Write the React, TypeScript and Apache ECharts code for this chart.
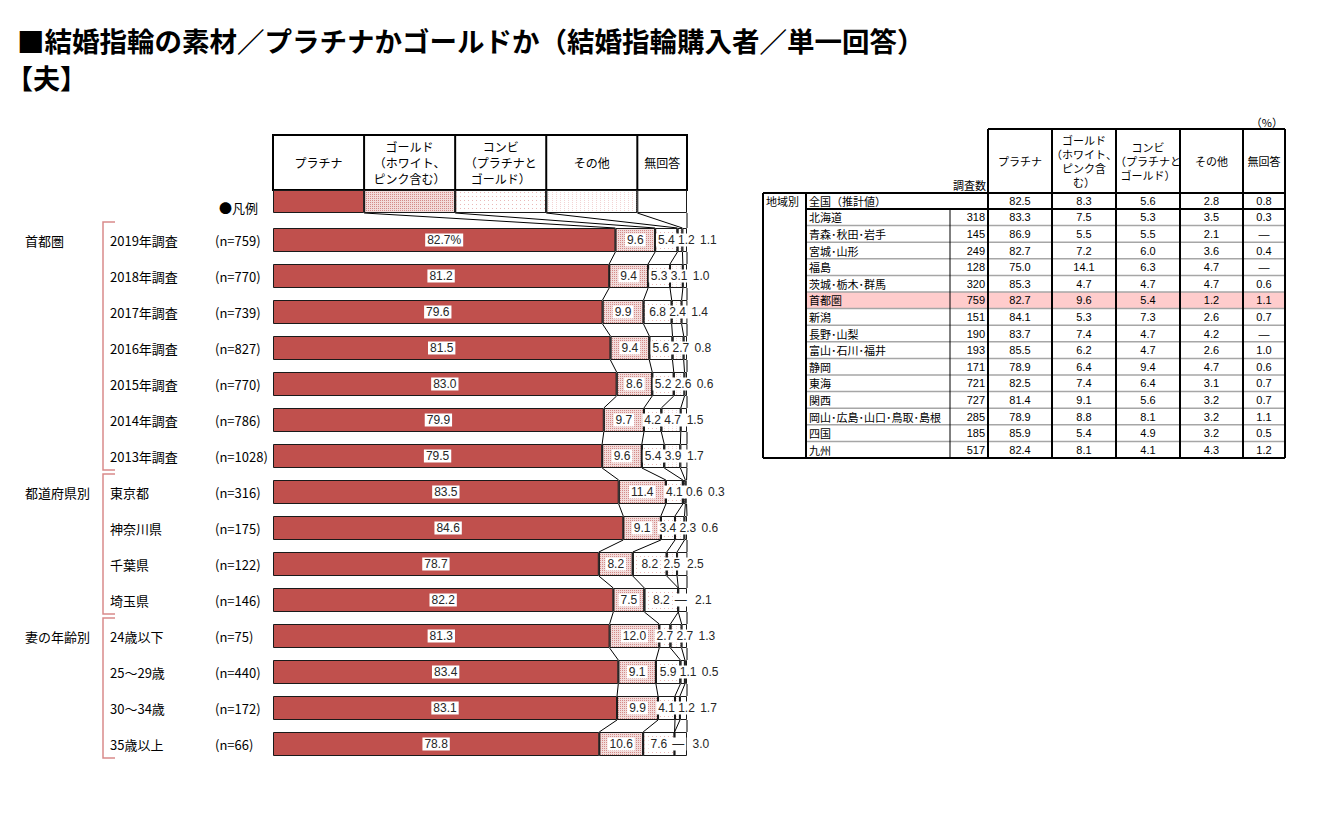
import React, { useEffect, useRef } from 'react';
import * as echarts from 'echarts';

// ---------------- data (left chart) ----------------
const groupNames = ['首都圏', '', '', '', '', '', '', '都道府県別', '', '', '', '妻の年齢別', '', '', ''];
const rowLabels = ['2019年調査', '2018年調査', '2017年調査', '2016年調査', '2015年調査', '2014年調査', '2013年調査', '東京都', '神奈川県', '千葉県', '埼玉県', '24歳以下', '25～29歳', '30～34歳', '35歳以上'];
const rowN = [759, 770, 739, 827, 770, 786, 1028, 316, 175, 122, 146, 75, 440, 172, 66];
const platinum = [82.7, 81.2, 79.6, 81.5, 83.0, 79.9, 79.5, 83.5, 84.6, 78.7, 82.2, 81.3, 83.4, 83.1, 78.8];
const gold = [9.6, 9.4, 9.9, 9.4, 8.6, 9.7, 9.6, 11.4, 9.1, 8.2, 7.5, 12.0, 9.1, 9.9, 10.6];
const combi = [5.4, 5.3, 6.8, 5.6, 5.2, 4.2, 5.4, 4.1, 3.4, 8.2, 8.2, 2.7, 5.9, 4.1, 7.6];
const other = [1.2, 3.1, 2.4, 2.7, 2.6, 4.7, 3.9, 0.6, 2.3, 2.5, 0, 2.7, 1.1, 1.2, 0];
const noAnswer = [1.1, 1.0, 1.4, 0.8, 0.6, 1.5, 1.7, 0.3, 0.6, 2.5, 2.1, 1.3, 0.5, 1.7, 3.0];
const groupRanges = [[0, 6], [7, 10], [11, 14]];
const seriesNames = ['プラチナ', 'ゴールド', 'コンビ', 'その他', '無回答'];
const headerTexts = ['プラチナ', 'ゴールド\n（ホワイト、\nピンク含む）', 'コンビ\n（プラチナと\nゴールド）', 'その他', '無回答'];

// ---------------- data (right table) ----------------
const tableHeaders = ['プラチナ', 'ゴールド\n（ホワイト、\nピンク含\nむ）', 'コンビ\n（プラチナと\nゴールド）', 'その他', '無回答'];
const nationalLabel = '全国（推計値）';
const nationalValues = [82.5, 8.3, 5.6, 2.8, 0.8];
const regionNames = ['北海道', '青森･秋田･岩手', '宮城･山形', '福島', '茨城･栃木･群馬', '首都圏', '新潟', '長野･山梨', '富山･石川･福井', '静岡', '東海', '関西', '岡山･広島･山口･鳥取･島根', '四国', '九州'];
const regionN = [318, 145, 249, 128, 320, 759, 151, 190, 193, 171, 721, 727, 285, 185, 517];
const regionPlatinum = [83.3, 86.9, 82.7, 75.0, 85.3, 82.7, 84.1, 83.7, 85.5, 78.9, 82.5, 81.4, 78.9, 85.9, 82.4];
const regionGold = [7.5, 5.5, 7.2, 14.1, 4.7, 9.6, 5.3, 7.4, 6.2, 6.4, 7.4, 9.1, 8.8, 5.4, 8.1];
const regionCombi = [5.3, 5.5, 6.0, 6.3, 4.7, 5.4, 7.3, 4.7, 4.7, 9.4, 6.4, 5.6, 8.1, 4.9, 4.1];
const regionOther = [3.5, 2.1, 3.6, 4.7, 4.7, 1.2, 2.6, 4.2, 2.6, 4.7, 3.1, 3.2, 3.2, 3.2, 4.3];
const regionNoAnswer = [0.3, null, 0.4, null, 0.6, 1.1, 0.7, null, 1.0, 0.6, 0.7, 0.7, 1.1, 0.5, 1.2];
const highlightRegion = '首都圏';

// ---------------- layout / style ----------------
const JP = '"Noto Sans CJK JP", "Noto Sans", sans-serif';
const NUM = '"Liberation Sans", Arial, sans-serif';
const PLOT_LEFT = 273;
const PLOT_W = 414;
const PLOT_TOP = 222;
const PLOT_H = 540;
const BAR_W = 24;
const LEG_TOP = 190;
const LEG_H = 23;
const HEAD_TOP = 135;
const K = PLOT_W / 100;
const legendShares = [22, 22, 22, 22, 12];
const RED = '#C0504D';
const BRACKET = '#D98A8A';

const segStyles: any[] = [
  { color: RED },
  { color: '#F2DCDB', decal: { symbol: 'rect', symbolSize: 1, color: '#D48A88', dashArrayX: [1, 1], dashArrayY: [1, 1] } },
  { color: '#FFFFFF', decal: { symbol: 'rect', symbolSize: 1, color: '#EBB8B7', dashArrayX: [1, 3], dashArrayY: [1, 3] } },
  { color: '#FFFFFF', decal: { symbol: 'rect', symbolSize: 1, color: '#F3D3D3', dashArrayX: [1, 3], dashArrayY: [1, 1] } },
  { color: '#FFFFFF' },
];

const fmt1 = (v: number | null) => (v === 0 || v == null ? '—' : v.toFixed(1));

function buildOption() {
  const values = [platinum, gold, combi, other, noAnswer];
  const cumRow = (i: number) => {
    let s = 0;
    return values.map((arr) => {
      s += arr[i];
      return Math.min(s, 100);
    });
  };
  let ls = 0;
  const legendCum = legendShares.map((v) => (ls += v));
  const connectorData = rowLabels.map((_, i) => [i, ...(i === 0 ? legendCum : cumRow(i - 1)), ...cumRow(i)]);

  const labelBase = {
    show: true,
    position: 'inside',
    backgroundColor: '#fff',
    padding: [1, 2, 0, 2],
    color: '#262626',
    fontSize: 12,
    fontFamily: NUM,
  };

  const otherX = (i: number, otherStart: number) => {
    const oc = otherStart + (other[i] * K) / 2;
    const cc = otherStart - (combi[i] * K) / 2;
    return Math.max(oc, cc + 20);
  };

  const mainSeries = values.map((arr, k) => {
    const s: any = {
      type: 'bar',
      name: seriesNames[k],
      stack: 'total',
      xAxisIndex: 0,
      yAxisIndex: 0,
      barWidth: BAR_W,
      data: arr,
      itemStyle: { ...segStyles[k], borderColor: '#1a1a1a', borderWidth: 1 },
      label: {
        ...labelBase,
        formatter: (p: any) => (k === 0 && p.dataIndex === 0 ? p.value.toFixed(1) + '%' : fmt1(p.value)),
      },
    };
    if (k === 3) {
      s.labelLayout = (p: any) => ({
        x: otherX(p.dataIndex, p.rect.x),
        y: p.rect.y + p.rect.height / 2,
        align: 'center',
        verticalAlign: 'middle',
      });
    }
    if (k === 4) {
      s.labelLayout = (p: any) => {
        const i = p.dataIndex;
        const oStart = p.rect.x - other[i] * K;
        return {
          x: Math.max(otherX(i, oStart) + 22, p.rect.x + p.rect.width + 8),
          y: p.rect.y + p.rect.height / 2,
          align: 'center',
          verticalAlign: 'middle',
        };
      };
    }
    return s;
  });

  const legendSeries = legendShares.map((v, k) => ({
    type: 'bar',
    name: seriesNames[k] + '凡例',
    stack: 'legend',
    xAxisIndex: 1,
    yAxisIndex: 1,
    barWidth: '100%',
    silent: true,
    data: [v],
    itemStyle: { ...segStyles[k], borderColor: '#1a1a1a', borderWidth: 1 },
    label: { show: false },
  }));

  const connectorSeries = {
    type: 'custom',
    xAxisIndex: 0,
    yAxisIndex: 0,
    clip: false,
    silent: true,
    z: 1,
    encode: { x: 1, y: 0 },
    data: connectorData,
    renderItem: (params: any, api: any) => {
      const i = api.value(0);
      const half = BAR_W / 2;
      const yCur = api.coord([0, i])[1] - half;
      const yPrev = i === 0 ? LEG_TOP + LEG_H : api.coord([0, i - 1])[1] + half;
      const children: any[] = [];
      for (let k = 0; k < 5; k++) {
        const xp = api.coord([api.value(1 + k), i])[0];
        const xc = api.coord([api.value(6 + k), i])[0];
        children.push({
          type: 'line',
          shape: { x1: xp, y1: yPrev, x2: xc, y2: yCur },
          style: { stroke: '#000', lineWidth: 1 },
        });
      }
      return { type: 'group', children };
    },
  };

  const bracketSeries = {
    type: 'custom',
    xAxisIndex: 0,
    yAxisIndex: 0,
    clip: false,
    silent: true,
    encode: { x: 1, y: 0 },
    data: groupRanges,
    renderItem: (params: any, api: any) => {
      const s = api.value(0);
      const e = api.value(1);
      const band = api.size([0, 1])[1];
      const top = api.coord([0, s])[1] - band / 2;
      const bottom = api.coord([0, e])[1] + band / 2 - 4;
      const x0 = 103;
      const x1 = 115;
      return {
        type: 'polyline',
        shape: { points: [[x1, top], [x0, top], [x0, bottom], [x1, bottom]] },
        style: { stroke: BRACKET, lineWidth: 1.5, fill: 'none' },
      };
    },
  };

  // ---------------- graphic (titles, header table, right table) ----------------
  const g: any[] = [];
  const line = (x1: number, y1: number, x2: number, y2: number, w = 1, c = '#000') =>
    g.push({ type: 'line', silent: true, shape: { x1, y1, x2, y2 }, style: { stroke: c, lineWidth: w } });
  const text = (t: string, x: number, y: number, o: any = {}) => {
    const align = o.align || 'center';
    const va = o.va || 'middle';
    g.push({
      type: 'text',
      silent: true,
      x,
      y,
      style: {
        text: t,
        fill: '#000',
        fontSize: o.fontSize || 12,
        fontFamily: o.fontFamily || JP,
        fontWeight: o.fontWeight || 'normal',
        lineHeight: o.lineHeight,
        align,
        verticalAlign: va,
        textAlign: align,
        textVerticalAlign: va,
      },
    });
  };

  // titles
  text('■結婚指輪の素材／プラチナかゴールドか（結婚指輪購入者／単一回答）', 17, 40, { fontSize: 27.5, lineHeight: 28, align: 'left', fontWeight: 'bold' });
  text('【夫】', 6, 77, { fontSize: 27, lineHeight: 28, align: 'left', fontWeight: 'bold' });

  // left header table
  const colX = [PLOT_LEFT];
  legendShares.forEach((v) => colX.push(colX[colX.length - 1] + v * K));
  g.push({
    type: 'rect',
    silent: true,
    shape: { x: PLOT_LEFT, y: HEAD_TOP, width: PLOT_W, height: LEG_TOP - HEAD_TOP },
    style: { fill: '#fff', stroke: '#000', lineWidth: 2 },
  });
  for (let k = 1; k < 5; k++) line(colX[k], HEAD_TOP, colX[k], LEG_TOP, 2);
  headerTexts.forEach((t, k) => {
    text(t, (colX[k] + colX[k + 1]) / 2, (HEAD_TOP + LEG_TOP) / 2, { fontSize: 12, lineHeight: 16 });
  });
  text('●凡例', 258, 207, { fontSize: 13, align: 'right' });

  // right table
  const TC = [763, 806, 950, 988, 1052, 1116, 1180, 1243, 1285];
  const T_HEAD_TOP = 129;
  const T_NAT_TOP = 193;
  const T_BODY_TOP = 209;
  const T_ROW_H = 16.6;
  const T_BOTTOM = T_BODY_TOP + T_ROW_H * regionNames.length;
  const hiIdx = regionNames.indexOf(highlightRegion);
  g.push({
    type: 'rect',
    silent: true,
    shape: { x: TC[1], y: T_BODY_TOP + T_ROW_H * hiIdx, width: TC[8] - TC[1], height: T_ROW_H },
    style: { fill: '#FFCCCC' },
  });
  for (let j = 1; j < regionNames.length; j++) {
    const y = T_BODY_TOP + T_ROW_H * j;
    line(TC[1], y, TC[8], y, 1.5, '#a6a6a6');
  }
  line(TC[2], T_BODY_TOP, TC[2], T_BOTTOM, 1, '#000');
  line(TC[3], T_HEAD_TOP, TC[8], T_HEAD_TOP, 2);
  line(TC[0], T_NAT_TOP, TC[8], T_NAT_TOP, 2);
  line(TC[1], T_BODY_TOP, TC[8], T_BODY_TOP, 2);
  line(TC[0], T_BOTTOM, TC[8], T_BOTTOM, 2);
  line(TC[0], T_NAT_TOP, TC[0], T_BOTTOM, 2);
  line(TC[1], T_NAT_TOP, TC[1], T_BOTTOM, 2);
  for (let c = 3; c <= 8; c++) line(TC[c], T_HEAD_TOP, TC[c], T_BOTTOM, 2);

  text('（%）', 1283, 122, { fontSize: 11, align: 'right' });
  text('調査数', TC[3] - 2, 185, { fontSize: 11, align: 'right' });
  tableHeaders.forEach((t, k) => {
    text(t, (TC[3 + k] + TC[4 + k]) / 2, (T_HEAD_TOP + T_NAT_TOP) / 2, { fontSize: 11, lineHeight: 14 });
  });
  const natY = (T_NAT_TOP + T_BODY_TOP) / 2;
  text('地域別', TC[0] + 3, natY, { fontSize: 11, align: 'left' });
  text(nationalLabel, TC[1] + 3, natY, { fontSize: 11, align: 'left' });
  nationalValues.forEach((v, k) => text(fmt1(v), (TC[3 + k] + TC[4 + k]) / 2, natY, { fontSize: 11, fontFamily: NUM }));
  const regionCols = [regionPlatinum, regionGold, regionCombi, regionOther, regionNoAnswer];
  regionNames.forEach((name, j) => {
    const y = T_BODY_TOP + T_ROW_H * (j + 0.5);
    text(name, TC[1] + 3, y, { fontSize: 11, align: 'left' });
    text(String(regionN[j]), TC[3] - 3, y, { fontSize: 11, align: 'right', fontFamily: NUM });
    regionCols.forEach((arr, k) => text(fmt1(arr[j]), (TC[3 + k] + TC[4 + k]) / 2, y, { fontSize: 11, fontFamily: NUM }));
  });

  return {
    animation: false,
    backgroundColor: '#fff',
    grid: [
      { left: PLOT_LEFT, width: PLOT_W, top: PLOT_TOP, height: PLOT_H },
      { left: PLOT_LEFT, width: PLOT_W, top: LEG_TOP, height: LEG_H },
    ],
    xAxis: [
      { gridIndex: 0, type: 'value', min: 0, max: 100, show: false },
      { gridIndex: 1, type: 'value', min: 0, max: 100, show: false },
    ],
    yAxis: [
      {
        gridIndex: 0,
        type: 'category',
        inverse: true,
        data: rowLabels,
        axisLine: { show: false },
        axisTick: { show: false },
        splitLine: { show: false },
        axisLabel: {
          margin: 3,
          color: '#000',
          fontSize: 13,
          fontFamily: JP,
          formatter: (v: string, idx: number) =>
            `{g|${groupNames[idx] || ' '}}{r|${rowLabels[idx]}}{n|(n=${rowN[idx]})}`,
          rich: {
            g: { width: 85, align: 'left', fontSize: 13, fontFamily: JP, color: '#000' },
            r: { width: 105, align: 'left', fontSize: 13, fontFamily: JP, color: '#000' },
            n: { width: 55, align: 'left', fontSize: 13, fontFamily: JP, color: '#000' },
          },
        },
      },
      { gridIndex: 1, type: 'category', data: ['凡例'], show: false },
    ],
    series: [...mainSeries, ...legendSeries, connectorSeries, bracketSeries],
    graphic: g,
  };
}

export default function App() {
  const ref = useRef<HTMLDivElement>(null);
  useEffect(() => {
    const chart = echarts.init(ref.current as HTMLDivElement, null, { renderer: 'svg' });
    chart.setOption(buildOption() as any);
    return () => chart.dispose();
  }, []);
  return (
    <div
      ref={ref}
      style={{ position: 'fixed', left: 0, top: 0, width: 1324, height: 818, background: '#fff' }}
    />
  );
}
